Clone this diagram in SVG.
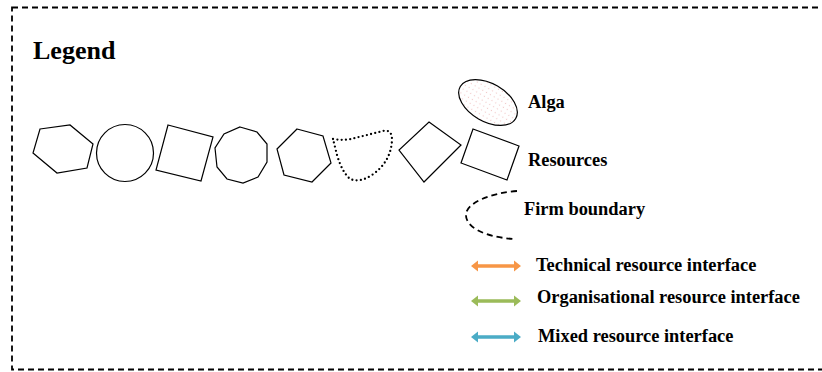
<svg xmlns="http://www.w3.org/2000/svg" width="822" height="372" viewBox="0 0 822 372">
<defs>
<style>
.shape{fill:none;stroke:#000;stroke-width:1.2;stroke-linejoin:miter}
.lbl{font-family:"Liberation Serif","Times New Roman",serif;font-weight:bold;font-size:18.4px;fill:#000}
.title{font-family:"Liberation Serif","Times New Roman",serif;font-weight:bold;font-size:26px;fill:#000}
</style>
<pattern id="dots" width="4.4" height="4.4" patternUnits="userSpaceOnUse">
<rect x="1.6" y="1.6" width="1.1" height="1.1" fill="#f0c4c4"/>
</pattern>
<path id="dblArrow" d="M0,0 L7,-5.5 L7,-1.7 L43,-1.7 L43,-5.5 L50,0 L43,5.5 L43,1.7 L7,1.7 L7,5.5 Z"/>
</defs>
<rect width="822" height="372" fill="#fff"/>
<rect id="frame" x="12" y="7.5" width="820" height="362" fill="none" stroke="#000" stroke-width="1.8" stroke-dasharray="6 4"/>
<text class="title" x="33" y="59">Legend</text>

<g id="res-hexagon1"><polygon class="shape" points="40,129 70,125 93,144 87,168 57,173 33,153"/></g>
<g id="res-circle"><circle class="shape" cx="125" cy="153" r="28.5"/></g>
<g id="res-square"><polygon class="shape" points="168,125 213,137 201,181 156,170"/></g>
<g id="res-decagon"><polygon class="shape" points="240,127 257,132 267,144 267,162 258,177 243,183 227,179 217,167 215,148 224,134"/></g>
<g id="res-hexagon2"><polygon class="shape" points="297,129 323,136 331,163 312,182 284,175 277,149"/></g>
<g id="res-dotted"><path d="M333,139 Q345,141 355,138 L383,131 Q392,129 392,140 Q391,162 372,175 Q360,183 350,179 Q342,172 337,155 Z" fill="none" stroke="#000" stroke-width="2.3" stroke-linecap="round" stroke-dasharray="0 4.3"/></g>
<g id="res-diamond"><polygon class="shape" points="429,122 461,145 424,182 399,150"/></g>

<g id="alga">
<ellipse cx="488" cy="102.5" rx="32" ry="19" transform="rotate(30 488 102.5)" fill="url(#dots)" stroke="#000" stroke-width="1.2"/>
<text class="lbl" x="528" y="108">Alga</text>
</g>
<g id="resources">
<polygon class="shape" points="473,129 519,146 507,180 461,163"/>
<text class="lbl" x="528" y="166">Resources</text>
</g>
<g id="firm-boundary">
<path d="M517,191 C490,193 467,203 466,214 C465,227 484,237 514,239" fill="none" stroke="#000" stroke-width="1.8" stroke-dasharray="6 4"/>
<text class="lbl" x="524" y="215">Firm boundary</text>
</g>
<g id="legend-arrows">
<use href="#dblArrow" x="471" y="266" fill="#F79646"/>
<use href="#dblArrow" x="471" y="301" fill="#9BBB59"/>
<use href="#dblArrow" x="471" y="337" fill="#4BACC6"/>
</g>
<g id="technical"><text class="lbl" x="536" y="271">Technical resource interface</text></g>
<g id="organisational"><text class="lbl" x="537" y="303">Organisational resource interface</text></g>
<g id="mixed"><text class="lbl" x="538" y="342">Mixed resource interface</text></g>
</svg>
